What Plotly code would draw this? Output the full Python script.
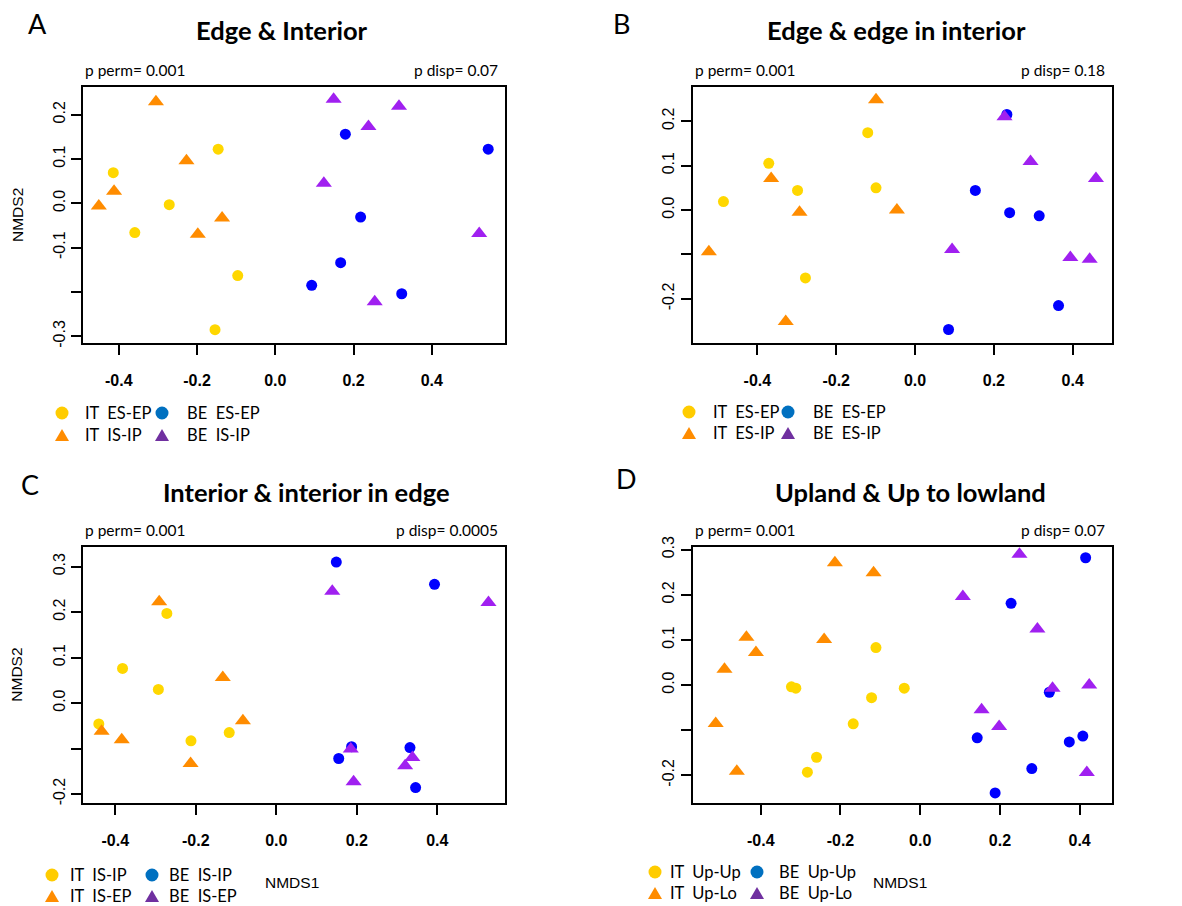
import plotly.graph_objects as go

W, H = 1182, 906

# ---------------- data ----------------
# Panel A: Edge & Interior
A_IT1_x = [-0.414, -0.146, -0.271, -0.359, -0.096, -0.154]
A_IT1_y = [0.069, 0.122, -0.003, -0.066, -0.163, -0.285]
A_IT2_x = [-0.305, -0.227, -0.412, -0.451, -0.136, -0.198]
A_IT2_y = [0.229, 0.096, 0.027, -0.006, -0.033, -0.070]
A_BE1_x = [0.179, 0.544, 0.218, 0.167, 0.093, 0.323]
A_BE1_y = [0.156, 0.122, -0.031, -0.134, -0.185, -0.204]
A_BE2_x = [0.149, 0.316, 0.238, 0.124, 0.521, 0.254]
A_BE2_y = [0.235, 0.219, 0.173, 0.045, -0.068, -0.222]

# Panel B: Edge & edge in interior
B_IT1_x = [-0.120, -0.371, -0.298, -0.099, -0.486, -0.278]
B_IT1_y = [0.174, 0.105, 0.044, 0.050, 0.019, -0.153]
B_IT2_x = [-0.099, -0.365, -0.293, -0.046, -0.523, -0.328]
B_IT2_y = [0.248, 0.071, -0.005, 0.000, -0.094, -0.251]
B_BE1_x = [0.233, 0.153, 0.240, 0.315, 0.364, 0.085]
B_BE1_y = [0.215, 0.044, -0.006, -0.013, -0.215, -0.269]
B_BE2_x = [0.227, 0.293, 0.459, 0.094, 0.394, 0.443]
B_BE2_y = [0.210, 0.109, 0.071, -0.089, -0.107, -0.111]

# Panel C: Interior & interior in edge
C_IT1_x = [-0.272, -0.382, -0.293, -0.441, -0.117, -0.212]
C_IT1_y = [0.197, 0.076, 0.030, -0.046, -0.065, -0.083]
C_IT2_x = [-0.291, -0.133, -0.083, -0.434, -0.384, -0.213]
C_IT2_y = [0.223, 0.056, -0.039, -0.062, -0.081, -0.133]
C_BE1_x = [0.149, 0.393, 0.187, 0.332, 0.155, 0.346]
C_BE1_y = [0.310, 0.261, -0.096, -0.098, -0.122, -0.186]
C_BE2_x = [0.139, 0.527, 0.185, 0.338, 0.320, 0.192]
C_BE2_y = [0.246, 0.221, -0.101, -0.120, -0.138, -0.173]

# Panel D: Upland & Up to lowland
D_IT1_x = [-0.111, -0.323, -0.312, -0.040, -0.122, -0.168, -0.260, -0.283]
D_IT1_y = [0.083, -0.004, -0.007, -0.007, -0.028, -0.086, -0.160, -0.193]
D_IT2_x = [-0.214, -0.117, -0.436, -0.241, -0.412, -0.491, -0.513, -0.460]
D_IT2_y = [0.271, 0.249, 0.106, 0.101, 0.072, 0.035, -0.085, -0.191]
D_BE1_x = [0.415, 0.228, 0.324, 0.143, 0.408, 0.374, 0.280, 0.188]
D_BE1_y = [0.282, 0.181, -0.016, -0.117, -0.113, -0.126, -0.185, -0.239]
D_BE2_x = [0.249, 0.107, 0.294, 0.332, 0.424, 0.154, 0.198, 0.418]
D_BE2_y = [0.290, 0.196, 0.124, -0.007, 0.000, -0.055, -0.092, -0.194]

# legend labels
A_labels = ["IT  ES-EP", "IT  IS-IP", "BE  ES-EP", "BE  IS-IP"]
B_labels = ["IT  ES-EP", "IT  ES-IP", "BE  ES-EP", "BE  ES-IP"]
C_labels = ["IT  IS-IP", "IT  IS-EP", "BE  IS-IP", "BE  IS-EP"]
D_labels = ["IT  Up-Up", "IT  Up-Lo", "BE  Up-Up", "BE  Up-Lo"]

titles = ["Edge & Interior", "Edge & edge in interior",
          "Interior & interior in edge", "Upland & Up to lowland"]
letters = ["A", "B", "C", "D"]
p_perm = ["p perm= 0.001", "p perm= 0.001", "p perm= 0.001", "p perm= 0.001"]
p_disp = ["p disp= 0.07", "p disp= 0.18", "p disp= 0.0005", "p disp= 0.07"]

x_tickvals = [-0.4, -0.2, 0.0, 0.2, 0.4]
x_ticktext = ["-0.4", "-0.2", "0.0", "0.2", "0.4"]
A_y_tickvals = [0.2, 0.1, 0.0, -0.1, -0.2, -0.3]
A_y_ticktext = ["0.2", "0.1", "0.0", "-0.1", "", "-0.3"]
B_y_tickvals = [0.2, 0.1, 0.0, -0.1, -0.2]
B_y_ticktext = ["0.2", "0.1", "0.0", "", "-0.2"]
CD_y_tickvals = [0.3, 0.2, 0.1, 0.0, -0.1, -0.2]
CD_y_ticktext = ["0.3", "0.2", "0.1", "0.0", "", "-0.2"]

# ---------------- styling ----------------
COL_YEL = "#FFD700"
COL_ORA = "#FF8C00"
COL_BLU = "#0000FF"
COL_PUR = "#A020F0"
LEG_YEL = "#FFCC00"
LEG_ORA = "#FF8C00"
LEG_BLU = "#0070C0"
LEG_PUR = "#7030A0"
TXT_FONT = "Lato"
TICK_FONT = "Liberation Sans"
NB = "\u00a0"


def px(x):
    return x / W


def py(y):
    return 1 - y / H


panels = [
    dict(data=[(A_IT1_x, A_IT1_y), (A_IT2_x, A_IT2_y), (A_BE1_x, A_BE1_y), (A_BE2_x, A_BE2_y)],
         labels=A_labels, box=(83.3, 87.3, 505, 342.7), xr=(-0.4906, 0.5869), yr=(-0.3144, 0.2617),
         ytv=A_y_tickvals, ytt=A_y_ticktext, leg=(62, 83, 162, 185, 413, 435), nmds2=True, nmds1=None,
         letter=(37, 23), title=(282, 30)),
    dict(data=[(B_IT1_x, B_IT1_y), (B_IT2_x, B_IT2_y), (B_BE1_x, B_BE1_y), (B_BE2_x, B_BE2_y)],
         labels=B_labels, box=(692.7, 87.3, 1111.7, 342.7), xr=(-0.5640, 0.4989), yr=(-0.2987, 0.2762),
         ytv=B_y_tickvals, ytt=B_y_ticktext, leg=(689, 711, 788, 811, 412, 433), nmds2=False, nmds1=None,
         letter=(621, 23), title=(896, 30)),
    dict(data=[(C_IT1_x, C_IT1_y), (C_IT2_x, C_IT2_y), (C_BE1_x, C_BE1_y), (C_BE2_x, C_BE2_y)],
         labels=C_labels, box=(83.3, 546.7, 505, 802.7), xr=(-0.4795, 0.5681), yr=(-0.2192, 0.3438),
         ytv=CD_y_tickvals, ytt=CD_y_ticktext, leg=(52, 68, 152, 167, 875, 896), nmds2=True, nmds1=(292, 882),
         letter=(30, 485), title=(306, 492)),
    dict(data=[(D_IT1_x, D_IT1_y), (D_IT2_x, D_IT2_y), (D_BE1_x, D_BE1_y), (D_BE2_x, D_BE2_y)],
         labels=D_labels, box=(692.7, 546.7, 1111.7, 802.7), xr=(-0.5707, 0.4804), yr=(-0.2607, 0.3065),
         ytv=CD_y_tickvals, ytt=CD_y_ticktext, leg=(655, 668, 757, 777, 872, 893), nmds2=False, nmds1=(900, 882),
         letter=(626, 478), title=(910, 492)),
]

fig = go.Figure()
annotations = []
shapes = []

styles = [("circle", COL_YEL, 11), ("triangle-up", COL_ORA, 14),
          ("circle", COL_BLU, 11), ("triangle-up", COL_PUR, 14)]

for i, p in enumerate(panels):
    n = "" if i == 0 else str(i + 1)
    xa, ya = "x" + n, "y" + n
    for (xs, ys), (sym, col, sz) in zip(p["data"], styles):
        fig.add_trace(go.Scatter(x=xs, y=ys, mode="markers", xaxis=xa, yaxis=ya,
                                 marker=dict(symbol=sym, color=col, size=sz, line=dict(width=0)),
                                 showlegend=False, hoverinfo="skip"))
    x0, y0, x1, y1 = p["box"]
    axis_common = dict(showline=True, mirror=True, linecolor="black", linewidth=2,
                       ticks="outside", ticklen=10, tickwidth=1.5, tickcolor="black",
                       showgrid=False, zeroline=False, automargin=False)
    fig.update_layout(**{
        ("xaxis" + n): dict(domain=[px(x0), px(x1)], range=list(p["xr"]), anchor=ya,
                            tickvals=x_tickvals, ticktext=x_ticktext, ticklabelstandoff=12,
                            tickfont=dict(family=TICK_FONT, size=16, color="black", weight="bold"),
                            **axis_common),
        ("yaxis" + n): dict(domain=[py(y1), py(y0)], range=list(p["yr"]), anchor=xa,
                            tickvals=p["ytv"], ticktext=p["ytt"], tickangle=-90, ticklabelstandoff=0,
                            tickfont=dict(family=TICK_FONT, size=16, color="black"),
                            **axis_common),
    })
    # title, letter, p values
    annotations.append(dict(text="<b>" + titles[i] + "</b>", x=px(p["title"][0]), y=py(p["title"][1]),
                            xref="paper", yref="paper", showarrow=False, xanchor="center", yanchor="middle",
                            font=dict(family=TXT_FONT, size=25.5, color="black")))
    annotations.append(dict(text=letters[i], x=px(p["letter"][0]), y=py(p["letter"][1]),
                            xref="paper", yref="paper", showarrow=False, xanchor="center", yanchor="middle",
                            font=dict(family=TXT_FONT, size=27, color="black")))
    annotations.append(dict(text=p_perm[i], x=px(x0), y=py(y0 - 17), xref="paper", yref="paper",
                            showarrow=False, xanchor="left", yanchor="middle",
                            font=dict(family=TXT_FONT, size=15.5, color="black")))
    annotations.append(dict(text=p_disp[i], x=px(x1 - 5), y=py(y0 - 17), xref="paper", yref="paper",
                            showarrow=False, xanchor="right", yanchor="middle",
                            font=dict(family=TXT_FONT, size=15.5, color="black")))
    if p["nmds2"]:
        annotations.append(dict(text="NMDS2", x=px(17), y=py((y0 + y1) / 2), xref="paper", yref="paper",
                                showarrow=False, textangle=-90, xanchor="center", yanchor="middle",
                                font=dict(family=TICK_FONT, size=15.5, color="black")))
    if p["nmds1"]:
        annotations.append(dict(text="NMDS1", x=px(p["nmds1"][0]), y=py(p["nmds1"][1]), xref="paper",
                                yref="paper", showarrow=False, xanchor="center", yanchor="middle",
                                font=dict(family=TICK_FONT, size=15.5, color="black")))
    # custom legend
    mx1, tx1, mx2, tx2, r1, r2 = p["leg"]
    legend_items = [(mx1, tx1, r1, "circle", LEG_YEL, p["labels"][0]),
                    (mx1, tx1, r2, "tri", LEG_ORA, p["labels"][1]),
                    (mx2, tx2, r1, "circle", LEG_BLU, p["labels"][2]),
                    (mx2, tx2, r2, "tri", LEG_PUR, p["labels"][3])]
    for mx, tx, ry, kind, col, lab in legend_items:
        if kind == "circle":
            r = 6.5
            shapes.append(dict(type="circle", xref="paper", yref="paper",
                               x0=px(mx - r), x1=px(mx + r), y0=py(ry + r), y1=py(ry - r),
                               fillcolor=col, line=dict(width=0)))
        else:
            path = "M {} {} L {} {} L {} {} Z".format(px(mx - 7), py(ry + 6), px(mx + 7), py(ry + 6),
                                                     px(mx), py(ry - 6))
            shapes.append(dict(type="path", xref="paper", yref="paper", path=path,
                               fillcolor=col, line=dict(width=0)))
        annotations.append(dict(text=lab.replace(" ", NB), x=px(tx), y=py(ry), xref="paper", yref="paper",
                                showarrow=False, xanchor="left", yanchor="middle",
                                font=dict(family=TXT_FONT, size=16.5, color="black")))

fig.update_layout(width=W, height=H, margin=dict(l=0, r=0, t=0, b=0, autoexpand=False),
                  paper_bgcolor="white", plot_bgcolor="white",
                  annotations=annotations, shapes=shapes, showlegend=False)

fig.write_html("out.html", config={"displayModeBar": False},
               post_script="document.body.style.margin='0';document.body.style.overflow='hidden';")
